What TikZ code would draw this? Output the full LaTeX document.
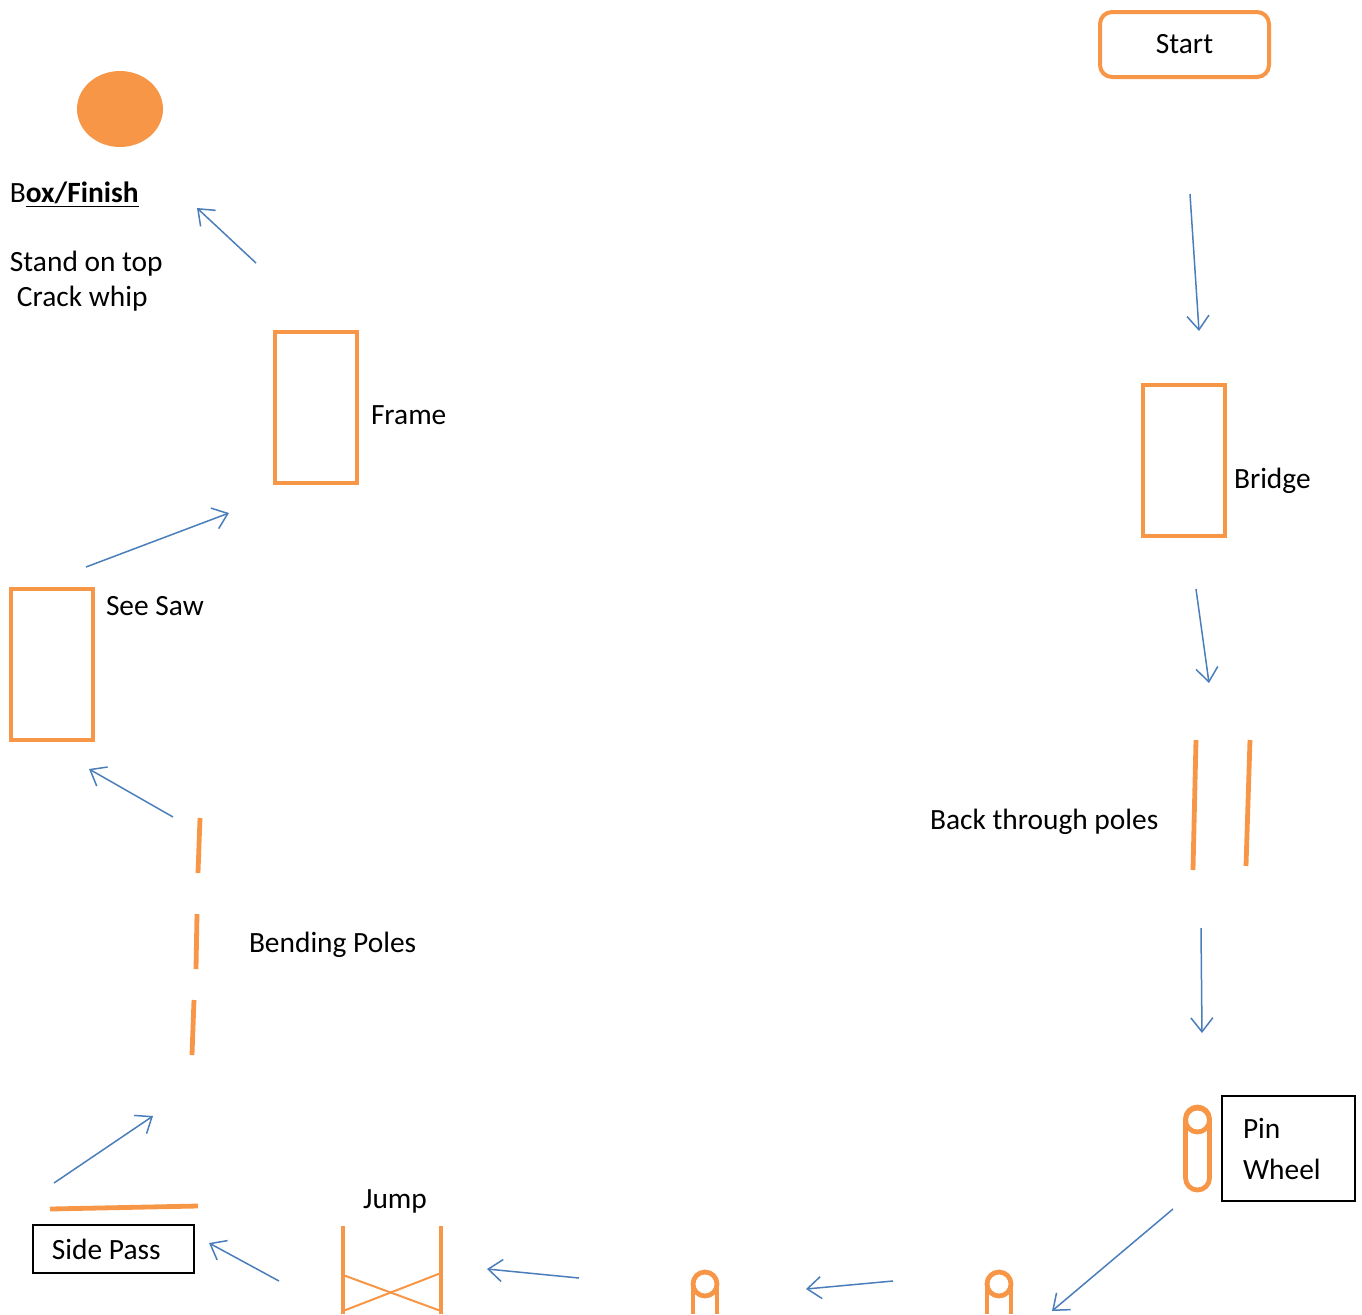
\documentclass[tikz,border=0pt]{standalone}
\usepackage{fontspec}
\setmainfont{Carlito}
\usetikzlibrary{arrows.meta,shapes.geometric}
\usetikzlibrary{positioning}
\definecolor{course}{HTML}{F79646}
\definecolor{route}{HTML}{4A7EBB}
\tikzstyle{every node}=[font=\fontsize{14.7}{17.5}\selectfont, inner sep=0, outer sep=0]
\tikzstyle{obstacle}=[draw=course, line width=2pt, minimum width=41pt, minimum height=75.5pt]
\tikzstyle{pole}=[draw=course, line width=2.4pt]
\tikzstyle{walk}=[draw=route, line width=0.75pt, -{Straight Barb[length=7pt,width=11pt]}]
\tikzstyle{sign}=[draw, line width=0.6pt, align=left]

\begin{document}
\begin{tikzpicture}[x=0.5pt,y=-0.5pt]
		\useasboundingbox (0,0) rectangle (1362,1314);
		% obstacles
		\node[draw=course, line width=2pt, rounded corners=6pt, minimum width=84.5pt, minimum height=32.5pt] (start) at (1184.5,44.5) {Start};
		\node[fill=course, ellipse, minimum width=43pt, minimum height=38pt] (box) at (120,109) {};
		\node[obstacle] (bridge) at (1184,460.5) {};
		\node[obstacle] (frame) at (316,407.5) {};
		\node[obstacle] (seesaw) at (52,664) {};
		\node[sign, minimum width=80.5pt, minimum height=24pt, inner xsep=9.5pt] (sidepass) at (113.5,1249) {\makebox[61.5pt][l]{\raisebox{-1pt}{Side Pass}}};
		\node[sign, font=\fontsize{14.7}{20.5}\selectfont, minimum width=66.5pt, minimum height=52.5pt, inner xsep=10.5pt, text width=45.5pt] (pinwheel) at (1288.5,1148.5) {Pin\\Wheel};
		% labels
		\node[anchor=west] (finish) at (10,195) {B\textbf{\underline{ox/Finish}}};
		\node[anchor=north west, align=left] (stand) at (10,251) {Stand on top\\\hspace{3.5pt}Crack whip};
		\node[anchor=west] (lframe) at (371,415) {Frame};
		\node[anchor=west] (lseesaw) at (106,606) {See Saw};
		\node[anchor=west] (lbend) at (249,945) {Bending Poles};
		\node (ljump) at (395,1201) {Jump};
		\node[anchor=west] (lbridge) at (1234,481) {Bridge};
		\node[anchor=west] (lback) at (930,822) {Back through poles};
		% poles
		\draw[pole] (1196,740) -- (1193,870);
		\draw[pole] (1250,740) -- (1246,866);
		\draw[pole] (200,818) -- (198,873);
		\draw[pole] (197,914) -- (196,969);
		\draw[pole] (194,1000) -- (192,1055);
		\draw[pole] (50,1209) -- (198,1206);
		\draw[pole] (343,1226) -- (343,1314);
		\draw[pole] (441,1226) -- (441,1314);
		\draw[course, line width=1pt] (343,1275) -- (441,1311);
		\draw[course, line width=1pt] (343,1311) -- (441,1273);
		% pins
		\draw[pole, rounded corners=6pt] (1185.5,1107) rectangle (1209.5,1190);
		\draw[pole] (1197.5,1120) circle[radius=12];
		\draw[pole] (705,1284) circle[radius=12];
		\draw[pole] (693,1284) -- (693,1314);
		\draw[pole] (717,1284) -- (717,1314);
		\draw[pole] (999,1284) circle[radius=12];
		\draw[pole] (987,1284) -- (987,1314);
		\draw[pole] (1011,1284) -- (1011,1314);
		% route
		\coordinate (t0) at (1190,194);   \coordinate (h0) at (1199,331);
		\coordinate (t1) at (1196,589);   \coordinate (h1) at (1209,683);
		\coordinate (t2) at (1201,928);   \coordinate (h2) at (1202,1033);
		\coordinate (t3) at (1173,1209);  \coordinate (h3) at (1052,1311);
		\coordinate (t4) at (893,1281);   \coordinate (h4) at (806,1289);
		\coordinate (t5) at (579,1278);   \coordinate (h5) at (487,1269);
		\coordinate (t6) at (279,1281);   \coordinate (h6) at (209,1243);
		\coordinate (t7) at (54,1183);    \coordinate (h7) at (153,1116);
		\coordinate (t8) at (173,817);    \coordinate (h8) at (89,769);
		\coordinate (t9) at (86,567);     \coordinate (h9) at (229,513);
		\coordinate (t10) at (256,263);   \coordinate (h10) at (197,208);
		\foreach \i in {0,...,10}
			\draw[walk] (t\i) -- (h\i);
	\end{tikzpicture}
\end{document}
